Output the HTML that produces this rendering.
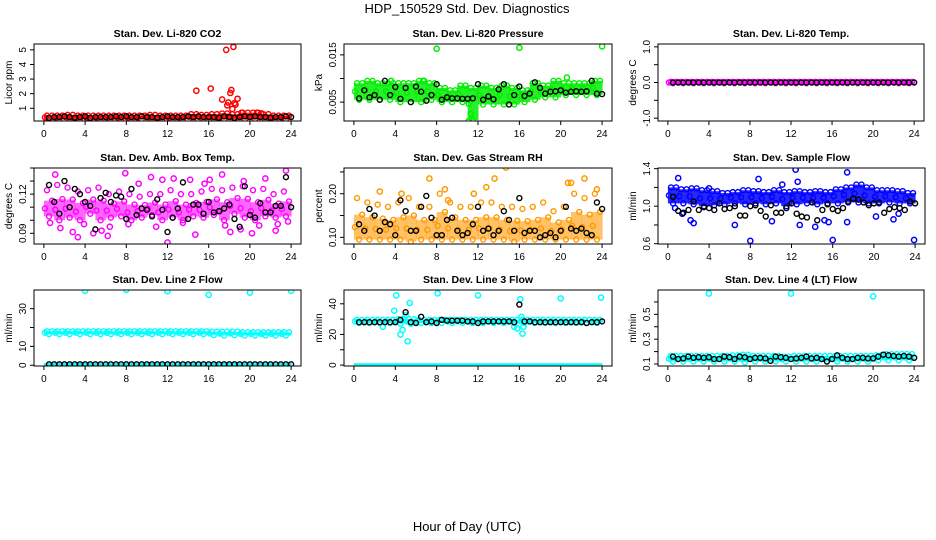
<!DOCTYPE html>
<html><head><meta charset="utf-8">
<style>
html,body{margin:0;padding:0;background:#fff;}
svg{display:block;font-family:"Liberation Sans",Arial,sans-serif;}
</style></head>
<body>
<svg id="chart" width="936" height="540" viewBox="0 0 936 540">
<text x="467" y="13" text-anchor="middle" font-size="13">HDP_150529  Std. Dev. Diagnostics</text>
<text x="467" y="531" text-anchor="middle" font-size="13">Hour of Day (UTC)</text>
</svg>
<script>
// ---------- data ----------
const xTicks = [0,4,8,12,16,20,24];
const hours = [0.5,1,1.5,2,2.5,3,3.5,4,4.5,5,5.5,6,6.5,7,7.5,8,8.5,9,9.5,10,10.5,11,11.5,12,12.5,13,13.5,14,14.5,15,15.5,16,16.5,17,17.5,18,18.5,19,19.5,20,20.5,21,21.5,22,22.5,23,23.5,24];

// Panel 1 CO2
const co2Lo = [0.25,0.25,0.25,0.25,0.25,0.25,0.25,0.25,0.25,0.25,0.25,0.25,0.25,0.25,0.25,0.25,0.25,0.25,0.25,0.25,0.25,0.25,0.25,0.25];
const co2Hi = [0.5,0.5,0.55,0.5,0.5,0.5,0.5,0.5,0.5,0.5,0.55,0.5,0.5,0.5,0.6,0.55,0.6,0.65,0.6,0.7,0.7,0.6,0.5,0.5];
const co2Ox = [14.8,16.2,17.3,17.7,18.4,17.8,17.9,18.1,18.2,18.3,18.5,18.6,18.8,19.2,20.7,21.1];
const co2Oy = [2.2,2.35,1.6,5.0,5.2,1.2,1.4,2.05,2.25,0.95,1.35,1.25,1.65,0.7,0.7,0.65];
const co2Black = [0.35,0.4,0.4,0.45,0.4,0.35,0.4,0.45,0.35,0.4,0.4,0.4,0.4,0.45,0.4,0.45,0.4,0.4,0.45,0.4,0.4,0.35,0.4,0.45,0.4,0.4,0.4,0.45,0.4,0.45,0.4,0.4,0.4,0.35,0.45,0.4,0.35,0.4,0.45,0.4,0.45,0.4,0.4,0.35,0.4,0.4,0.45,0.4];

// Panel 2 Pressure
const prLo = [0.0055,0.0055,0.0055,0.0055,0.005,0.005,0.005,0.0055,0.005,0.005,0.005,0.0012,0.0045,0.0045,0.0045,0.0045,0.005,0.0055,0.006,0.006,0.0065,0.0065,0.0065,0.0065];
const prHi = [0.009,0.0095,0.009,0.009,0.009,0.009,0.0095,0.009,0.008,0.0075,0.0085,0.008,0.0085,0.008,0.0085,0.008,0.0075,0.009,0.0085,0.0095,0.009,0.009,0.009,0.0095];
const prOx = [8,16,24,20.6,6.7,11.1,11.3,3.6];
const prOy = [0.0163,0.0165,0.0168,0.0102,0.0095,0.001,0.0025,0.0095];
const prBlack = [0.0058,0.0075,0.006,0.0065,0.0055,0.0095,0.0065,0.0082,0.0057,0.008,0.005,0.0083,0.0072,0.0053,0.0065,0.0088,0.0055,0.006,0.0058,0.0058,0.0057,0.0057,0.0058,0.0088,0.0055,0.0062,0.0056,0.0077,0.0088,0.0045,0.0065,0.0083,0.0063,0.0068,0.0092,0.008,0.0068,0.0072,0.0073,0.0075,0.007,0.0072,0.0073,0.0072,0.0073,0.0095,0.0068,0.0067];

// Panel 3 Temp
const tpLo = [-0.02,-0.02,-0.02,-0.02,-0.02,-0.02,-0.02,-0.02,-0.02,-0.02,-0.02,-0.02,-0.02,-0.02,-0.02,-0.02,-0.02,-0.02,-0.02,-0.02,-0.02,-0.02,-0.02,-0.02];
const tpHi = [0.02,0.02,0.02,0.02,0.02,0.02,0.02,0.02,0.02,0.02,0.02,0.02,0.02,0.02,0.02,0.02,0.02,0.02,0.02,0.02,0.02,0.02,0.02,0.02];
const tpOx = [];
const tpOy = [];
const tpBlack = [0,0,0,0,0,0,0,0,0,0,0,0,0,0,0,0,0,0,0,0,0,0,0,0,0,0,0,0,0,0,0,0,0,0,0,0,0,0,0,0,0,0,0,0,0,0,0,0];

// Panel 4 Amb box temp
const abLo = [0.103,0.1,0.102,0.1,0.105,0.1,0.102,0.103,0.1,0.102,0.104,0.1,0.102,0.1,0.103,0.102,0.104,0.1,0.105,0.102,0.1,0.103,0.102,0.103];
const abHi = [0.123,0.127,0.125,0.122,0.123,0.125,0.12,0.122,0.12,0.118,0.12,0.12,0.123,0.12,0.12,0.122,0.124,0.123,0.125,0.126,0.123,0.124,0.12,0.122];
const abOx = [1.1,2.8,3.3,4.8,5.6,6.2,7.9,10.4,11.5,12,12.6,14.7,16.1,17.3,18.1,19.4,20.2,21.5,22.5,23.5,0.6,1.6,3.9,6.4,9.2,13.5,15.6,17.6,19.1,22.7,8.2,10.9,14.2,20.9,23.7];
const abOy = [0.135,0.091,0.087,0.09,0.092,0.088,0.136,0.133,0.131,0.083,0.132,0.089,0.131,0.135,0.091,0.13,0.09,0.132,0.092,0.138,0.098,0.094,0.097,0.095,0.128,0.098,0.128,0.096,0.093,0.097,0.097,0.095,0.131,0.096,0.099];
const abBlack = [0.127,0.114,0.105,0.13,0.11,0.124,0.12,0.114,0.111,0.093,0.117,0.121,0.114,0.119,0.118,0.101,0.124,0.104,0.109,0.108,0.103,0.116,0.108,0.091,0.102,0.109,0.129,0.101,0.112,0.112,0.105,0.114,0.106,0.107,0.109,0.112,0.101,0.095,0.126,0.104,0.102,0.113,0.106,0.106,0.111,0.111,0.133,0.11];

// Panel 5 Gas stream RH
const rhLo = [0.095,0.095,0.095,0.095,0.095,0.09,0.095,0.095,0.095,0.095,0.095,0.095,0.095,0.095,0.095,0.09,0.095,0.095,0.095,0.095,0.095,0.095,0.095,0.095];
const rhHi = [0.19,0.18,0.175,0.17,0.18,0.19,0.17,0.17,0.2,0.18,0.17,0.17,0.18,0.18,0.17,0.17,0.165,0.17,0.18,0.16,0.17,0.2,0.19,0.2];
const rhOx = [7.3,2.5,8.8,11.6,12.8,13.6,14.7,21,22.3,4.6,9.1,23.5,20.7];
const rhOy = [0.235,0.205,0.21,0.2,0.215,0.235,0.26,0.225,0.235,0.2,0.185,0.21,0.225];
const rhBlack = [0.13,0.115,0.165,0.15,0.115,0.135,0.13,0.105,0.185,0.16,0.115,0.115,0.17,0.195,0.145,0.105,0.105,0.14,0.145,0.115,0.105,0.11,0.13,0.17,0.115,0.12,0.105,0.115,0.16,0.14,0.115,0.19,0.11,0.115,0.115,0.1,0.105,0.11,0.1,0.115,0.17,0.12,0.115,0.12,0.11,0.105,0.18,0.165];

// Panel 6 Sample flow
const sfLo = [1.03,1.03,1.02,1.0,1.01,1.02,1.03,1.02,1.03,1.02,1.03,1.0,1.02,1.03,1.02,1.03,1.03,1.04,1.04,1.03,1.03,1.04,1.03,1.03];
const sfHi = [1.2,1.18,1.19,1.17,1.16,1.14,1.15,1.17,1.16,1.15,1.17,1.15,1.16,1.15,1.16,1.15,1.18,1.2,1.23,1.2,1.17,1.17,1.16,1.14];
const sfOx = [1.0,2.2,2.5,6.5,8.0,8.8,10.1,12.4,12.6,12.8,14.3,15.2,15.6,16.0,17.4,17.4,20.2,21.9,22.4,23.9,1.4,0.7,4.0,11.1];
const sfOy = [1.3,0.85,0.82,0.8,0.63,1.29,0.84,1.39,1.26,0.8,0.78,0.85,0.83,0.64,1.36,0.83,0.89,0.86,0.92,0.64,0.92,0.98,1.19,1.23];
const sfBlack = [1.1,0.95,0.93,0.96,1.05,0.96,0.99,0.98,0.96,1.03,0.97,0.98,1.0,0.9,0.9,1.0,1.01,0.95,0.89,1.01,0.93,0.93,0.98,1.03,0.92,0.89,0.88,1.04,0.85,0.96,1.02,0.97,0.95,0.98,1.05,1.08,1.07,1.04,1.01,1.03,1.04,0.93,0.97,0.99,0.98,0.96,1.05,1.03];

// Panel 7 Line 2 flow
const l2Lo = [16.5,16.5,16.5,16.5,16.5,16.5,16.5,16.5,16.5,16.5,16.5,16.5,16.5,16.5,16.5,16.5,16,15.8,16,15.8,15.8,15.8,15.8,15.8];
const l2Hi = [18,18,18,18,18,18,18,18,18,18,18,18,18,18,18,18,17.8,17.8,17.8,17.5,17.5,17.5,17.5,17.5];
const l2Ox = [4,8,12,16,20,24];
const l2Oy = [39.5,40,39.3,37.3,38.5,39.5];
const l2Black = [0.5,0.5,0.5,0.5,0.5,0.5,0.5,0.5,0.5,0.5,0.5,0.5,0.5,0.5,0.5,0.5,0.5,0.5,0.5,0.5,0.5,0.5,0.5,0.5,0.5,0.5,0.5,0.5,0.5,0.5,0.5,0.5,0.5,0.5,0.5,0.5,0.5,0.5,0.5,0.5,0.5,0.5,0.5,0.5,0.5,0.5,0.5,0.5];

// Panel 8 Line 3 flow
const l3Lo = [27.5,27.5,27.5,27.5,27,27,27.5,27.5,27.5,27.5,27.5,27.5,27.5,27.5,27.5,27.5,27.5,27.5,27.5,27.5,27.5,27.5,27.5,27.5];
const l3Hi = [29.5,29.5,29.5,29.5,30,30,29.5,29.5,29.5,29.5,29.5,29.5,29.5,29.5,29.5,29.5,29.5,29.5,29.5,29.5,29.5,29.5,29.5,29.5];
const l3Ox = [4.1,5.4,8.1,12.0,16.1,20.0,23.9,4.5,4.7,5.2,2.8,3.9,15.8,16.2,16.3,16.4,15.5,5.0];
const l3Oy = [45.5,40.5,46.8,45.5,43,43.5,44,20,23,15.5,25,35.5,24,31.5,20.5,25,25,32.5];
const l3Black = [28,28,28,28,28,28,28,28,29.5,34.5,28,27.5,31.5,28,28.5,27.5,29.5,29,29,29,29,28.5,28.5,27.5,28.5,28.5,28.5,28.5,28.5,28.5,28,39.5,28.5,28.5,28,28,28,28,28,28,28,28,28,28,27.5,28,28,28.5];

// Panel 9 Line 4 (LT) flow
const l4Lo = [0.12,0.12,0.12,0.12,0.12,0.12,0.12,0.115,0.12,0.12,0.12,0.12,0.12,0.12,0.12,0.12,0.12,0.12,0.12,0.12,0.13,0.13,0.13,0.13];
const l4Hi = [0.165,0.165,0.165,0.165,0.165,0.165,0.17,0.175,0.165,0.165,0.165,0.16,0.165,0.165,0.165,0.165,0.165,0.165,0.165,0.165,0.17,0.18,0.18,0.18];
const l4Ox = [4,12,20];
const l4Oy = [0.668,0.668,0.645];
const l4Black = [0.16,0.14,0.145,0.16,0.15,0.155,0.15,0.155,0.14,0.14,0.16,0.155,0.14,0.16,0.155,0.14,0.15,0.15,0.145,0.125,0.16,0.155,0.15,0.14,0.145,0.15,0.16,0.145,0.15,0.14,0.12,0.14,0.17,0.15,0.14,0.14,0.15,0.15,0.145,0.145,0.16,0.175,0.17,0.165,0.16,0.165,0.16,0.15];

// ---------- layout ----------
const panels = [
 {name:'co2',title:'Stan. Dev. Li-820 CO2',ylab:'Licor ppm',box:[34,44,301,121],ydom:[0.13,5.4],yt:[1,2,3,4,5],yl:['1','2','3','4','5'],col:'#ff0000',lo:co2Lo,hi:co2Hi,ox:co2Ox,oy:co2Oy,bk:co2Black},
 {name:'pressure',title:'Stan. Dev. Li-820 Pressure',ylab:'kPa',box:[344,44,612,121],ydom:[0.001,0.0173],yt:[0.005,0.01,0.015],yl:['0.005','','0.015'],col:'#00ee00',lo:prLo,hi:prHi,ox:prOx,oy:prOy,bk:prBlack},
 {name:'temp',title:'Stan. Dev. Li-820 Temp.',ylab:'degrees C',box:[658,44,924,121],ydom:[-1.08,1.08],yt:[-1,-0.5,0,0.5,1],yl:['-1.0','','0.0','','1.0'],col:'#ff00ff',lo:tpLo,hi:tpHi,ox:tpOx,oy:tpOy,bk:tpBlack},
 {name:'amb-box-temp',title:'Stan. Dev. Amb. Box Temp.',ylab:'degrees C',box:[34,168,301,244],ydom:[0.0818,0.14],yt:[0.09,0.1,0.11,0.12,0.13,0.14],yl:['0.09','','','0.12','',''],col:'#ff00ff',lo:abLo,hi:abHi,ox:abOx,oy:abOy,bk:abBlack,sparse:true},
 {name:'gas-rh',title:'Stan. Dev. Gas Stream RH',ylab:'percent',box:[344,168,612,244],ydom:[0.0847,0.259],yt:[0.1,0.15,0.2,0.25],yl:['0.10','','0.20',''],col:'#ff9900',lo:rhLo,hi:rhHi,ox:rhOx,oy:rhOy,bk:rhBlack,sparse:true},
 {name:'sample-flow',title:'Stan. Dev. Sample Flow',ylab:'ml/min',box:[658,168,925,244],ydom:[0.597,1.407],yt:[0.6,0.8,1.0,1.2,1.4],yl:['0.6','','1.0','','1.4'],col:'#0000ff',lo:sfLo,hi:sfHi,ox:sfOx,oy:sfOy,bk:sfBlack},
 {name:'line2-flow',title:'Stan. Dev. Line 2 Flow',ylab:'ml/min',box:[34,290,301,366],ydom:[-0.4,39.9],yt:[0,10,20,30],yl:['0','10','','30'],col:'#00ffff',lo:l2Lo,hi:l2Hi,ox:l2Ox,oy:l2Oy,bk:l2Black,zero:true},
 {name:'line3-flow',title:'Stan. Dev. Line 3 Flow',ylab:'ml/min',box:[344,290,612,366],ydom:[-0.6,49],yt:[0,10,20,30,40],yl:['0','','20','','40'],col:'#00ffff',lo:l3Lo,hi:l3Hi,ox:l3Ox,oy:l3Oy,bk:l3Black,zero:true},
 {name:'line4-flow',title:'Stan. Dev. Line 4 (LT) Flow',ylab:'ml/min',box:[658,290,924,366],ydom:[0.084,0.696],yt:[0.1,0.2,0.3,0.4,0.5,0.6],yl:['0.1','','0.3','','0.5',''],col:'#00ffff',lo:l4Lo,hi:l4Hi,ox:l4Ox,oy:l4Oy,bk:l4Black}
];

const svg = document.getElementById('chart');
const NS = 'http://www.w3.org/2000/svg';
function mk(tag, attrs, parent){
  const e = document.createElementNS(NS, tag);
  for (const k in attrs) e.setAttribute(k, attrs[k]);
  parent.appendChild(e);
  return e;
}

panels.forEach(p => {
  const [x0,y0,x1,y1] = p.box;
  const xs = v => x0 + (v + 0.96) / 25.92 * (x1 - x0);
  const ys = v => y1 - (v - p.ydom[0]) / (p.ydom[1] - p.ydom[0]) * (y1 - y0);
  const g = mk('g', {}, svg);
  
  

  const t = mk('text', {x:(x0+x1)/2, y:y0-7, 'text-anchor':'middle', 'font-size':'10.5', 'font-weight':'bold'}, g);
  t.textContent = p.title;
  
  

  const clip = mk('clipPath', {id:'c-'+p.name}, g);
  mk('rect', {x:x0, y:y0, width:x1-x0, height:y1-y0}, clip);
  const plot = mk('g', {'clip-path':'url(#c-'+p.name+')'}, g);
  
  

  // dense band
  p.lo.forEach((lo, h) => {
    const hi = p.hi[h];
    const top = p.sparse ? lo + (hi - lo) * 0.6 : hi;
    const r = mk('rect', {x:xs(h), y:ys(top), width:xs(h+1)-xs(h)+0.5, height:Math.max(3, ys(lo)-ys(top)), fill:p.col, opacity:p.sparse?0.6:0.85}, plot);
    
    
    [[h+0.3,hi],[h+0.8,top],[h+0.5,lo],[h+0.1,(lo+top)/2]].forEach(([hx,hy]) => {
      const c = mk('circle', {cx:xs(hx), cy:ys(hy), r:2.5, fill:'none', stroke:p.col, 'stroke-width':1.4}, plot);
      
      
    });
  });
  if (p.zero) {
    p.lo.forEach((lo, h) => {
      const z = mk('rect', {x:xs(h), y:ys(1.2), width:xs(h+1)-xs(h)+0.5, height:ys(-0.2)-ys(1.2), fill:p.col}, plot);
      
      
    });
  }
  p.ox.forEach((ox, i) => {
    const c = mk('circle', {cx:xs(ox), cy:ys(p.oy[i]), r:2.6, fill:'none', stroke:p.col, 'stroke-width':1.5}, plot);
    
    
  });
  p.bk.forEach((v, i) => {
    const c = mk('circle', {cx:xs(hours[i]), cy:ys(v), r:2.5, fill:'none', stroke:'#000', 'stroke-width':1.4}, plot);
    
    
  });

  const box = mk('rect', {x:x0, y:y0, width:x1-x0, height:y1-y0, fill:'none', stroke:'#000', 'stroke-width':1}, g);
  
  

  // x axis
  const xa = mk('g', {}, g);
  
  
  mk('line', {x1:xs(0), x2:xs(24), y1:y1, y2:y1, stroke:'#000'}, xa);
  xTicks.forEach(v => {
    mk('line', {x1:xs(v), x2:xs(v), y1:y1, y2:y1+4, stroke:'#000'}, xa);
    const tl = mk('text', {x:xs(v), y:y1+16, 'text-anchor':'middle', 'font-size':'10'}, xa);
    tl.textContent = v;
    
    
  });
  // y axis
  const ya = mk('g', {}, g);
  
  
  p.yt.forEach((v, i) => {
    mk('line', {x1:x0-4, x2:x0, y1:ys(v), y2:ys(v), stroke:'#000'}, ya);
    if (p.yl[i]) {
      const tl = mk('text', {x:x0-8, y:ys(v), 'text-anchor':'middle', 'font-size':'10', transform:'rotate(-90 '+(x0-8)+' '+ys(v)+')'}, ya);
      tl.textContent = p.yl[i];
      
      
    }
  });
  const yt = mk('text', {x:x0-22, y:(y0+y1)/2, 'text-anchor':'middle', 'font-size':'10', transform:'rotate(-90 '+(x0-22)+' '+((y0+y1)/2)+')'}, ya);
  yt.textContent = p.ylab;
  
  
});
</script>
</body></html>
